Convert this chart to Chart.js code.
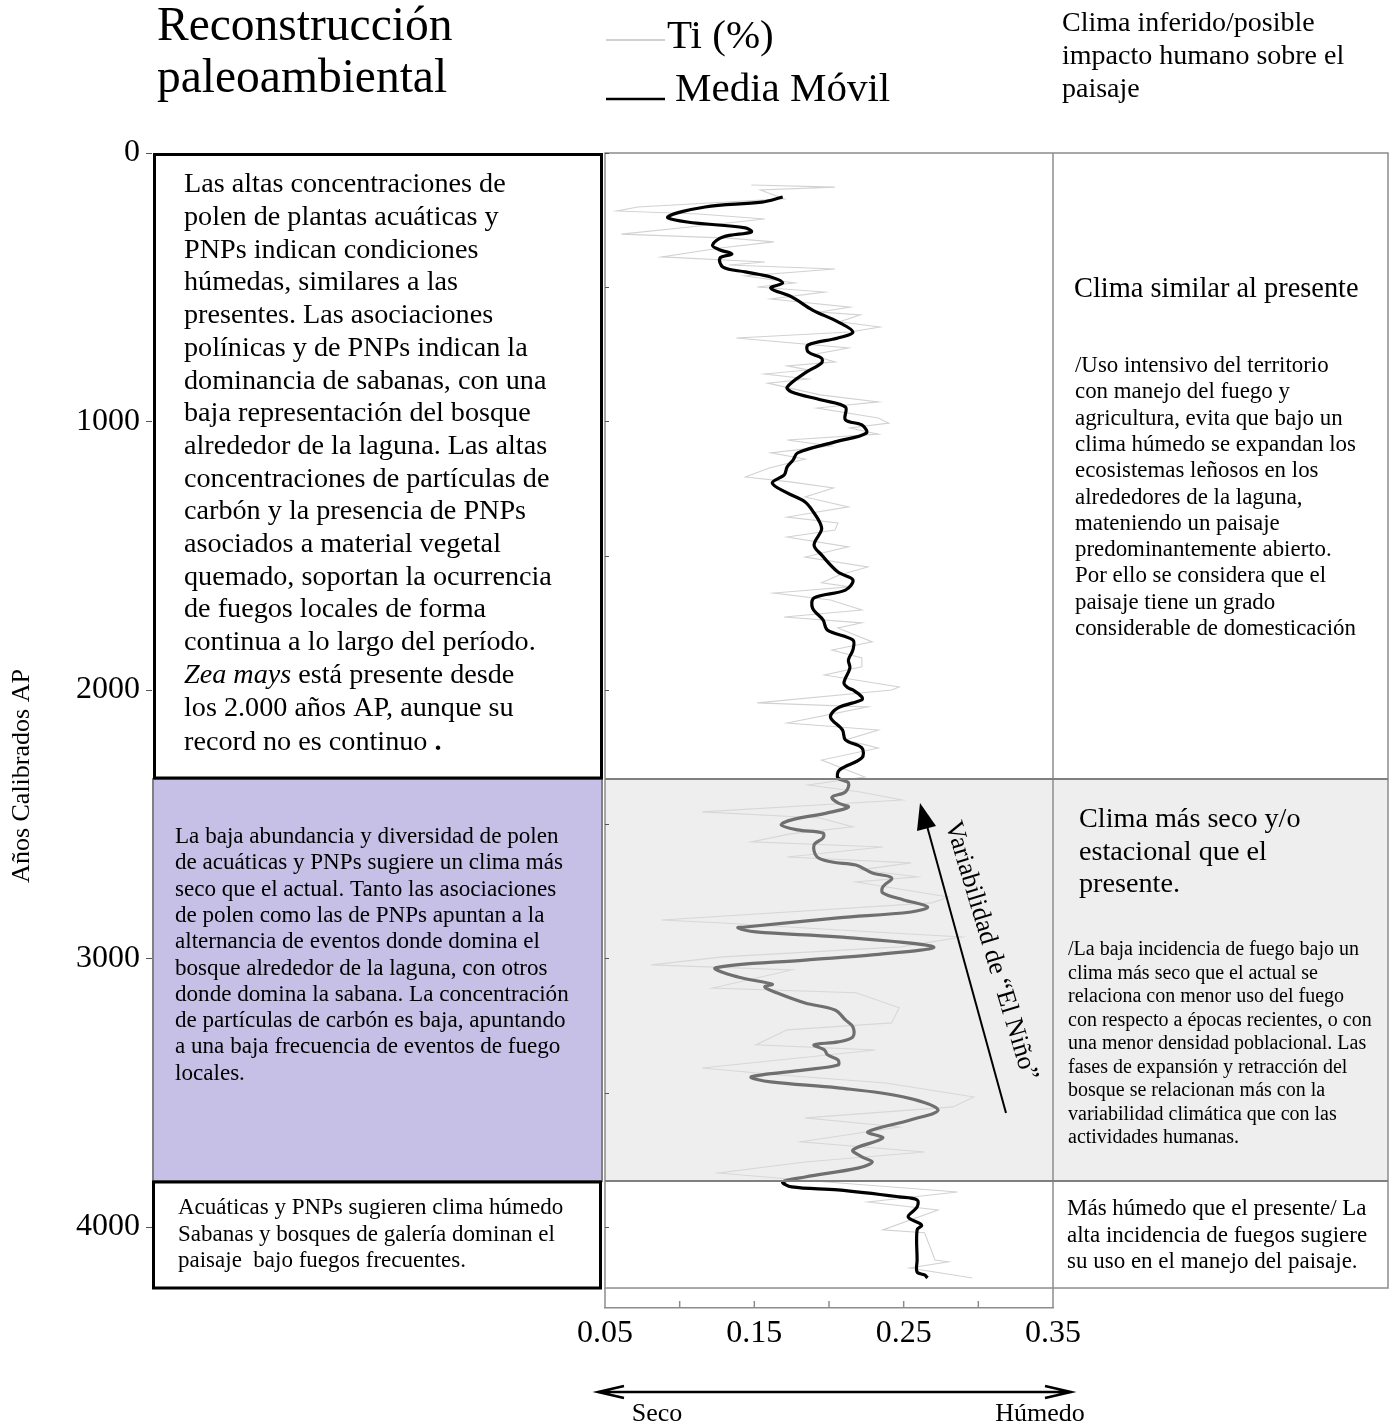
<!DOCTYPE html>
<html lang="es">
<head>
<meta charset="utf-8">
<title>Reconstrucción paleoambiental</title>
<script src="https://cdn.jsdelivr.net/npm/chart.js@4.4.1/dist/chart.umd.min.js"></script>
<style>
  html, body { margin: 0; padding: 0; background: #fff; }
  #wrap { width: 1392px; height: 1426px; }
</style>
</head>
<body>
<div id="wrap"><canvas id="tiCanvas" width="1392" height="1426"></canvas></div>
<script>
// Ti (%) raw record: age (cal yr BP) and value
const tiAges = [119, 127, 138, 171, 201, 216, 227, 246, 272, 302, 317, 331, 354, 387, 406, 417, 432, 458, 484, 499,
  518, 544, 574, 592, 603, 629, 648, 667, 689, 726, 752, 778, 793, 808, 823, 842, 857, 901, 927, 950,
  987, 1006, 1024, 1047, 1069, 1091, 1117, 1140, 1173, 1207, 1225, 1248, 1281, 1318, 1356, 1378, 1404, 1430, 1467, 1505,
  1542, 1572, 1601, 1616, 1639, 1665, 1702, 1728, 1750, 1769, 1821, 1851, 1881, 1914, 1944, 1989, 2000, 2048, 2063, 2123,
  2149, 2186, 2216, 2261, 2324, 2354, 2380, 2410, 2454, 2477, 2510, 2536, 2566, 2585, 2622, 2644, 2670, 2696, 2715, 2771,
  2793, 2857, 2868, 2894, 2920, 2957, 2994, 3024, 3043, 3110, 3128, 3184, 3240, 3266, 3322, 3341, 3408, 3434, 3464, 3516,
  3553, 3594, 3628, 3683, 3721, 3758, 3799, 3825, 3870, 3907, 3937, 4011, 4022, 4123, 4130, 4153, 4190];
const tiValues = [0.148, 0.204, 0.154, 0.170, 0.072, 0.058, 0.113, 0.157, 0.113, 0.061, 0.133, 0.163, 0.127, 0.088, 0.157, 0.133, 0.204, 0.144, 0.177, 0.152,
  0.197, 0.161, 0.214, 0.194, 0.221, 0.207, 0.234, 0.214, 0.138, 0.213, 0.188, 0.204, 0.172, 0.186, 0.157, 0.186, 0.159, 0.194, 0.233, 0.192,
  0.233, 0.240, 0.214, 0.233, 0.172, 0.201, 0.161, 0.184, 0.160, 0.144, 0.174, 0.203, 0.184, 0.213, 0.172, 0.206, 0.204, 0.172, 0.213, 0.184,
  0.226, 0.207, 0.195, 0.214, 0.163, 0.201, 0.222, 0.170, 0.222, 0.206, 0.229, 0.202, 0.222, 0.222, 0.197, 0.247, 0.242, 0.152, 0.226, 0.172,
  0.233, 0.211, 0.233, 0.195, 0.224, 0.186, 0.221, 0.249, 0.115, 0.194, 0.216, 0.174, 0.148, 0.236, 0.172, 0.255, 0.221, 0.259, 0.218, 0.280,
  0.269, 0.088, 0.129, 0.207, 0.289, 0.248, 0.129, 0.081, 0.175, 0.122, 0.218, 0.247, 0.242, 0.172, 0.151, 0.231, 0.115, 0.167, 0.238, 0.297,
  0.283, 0.184, 0.247, 0.181, 0.264, 0.184, 0.126, 0.181, 0.286, 0.226, 0.273, 0.236, 0.264, 0.271, 0.280, 0.254, 0.296];

// moving average (Media Móvil)
const mediaAges = [164, 183, 201, 238, 257, 279, 294, 313, 343, 361, 376, 391, 425, 443, 462, 484, 503, 536, 585, 629,
  667, 689, 715, 741, 764, 782, 819, 872, 890, 920, 946, 994, 1013, 1043, 1076, 1117, 1143, 1169, 1199, 1229,
  1266, 1300, 1341, 1378, 1404, 1460, 1497, 1561, 1590, 1628, 1657, 1695, 1739, 1777, 1814, 1851, 1888, 1918, 1974, 1993,
  2000, 2026, 2037, 2067, 2101, 2149, 2186, 2216, 2253, 2298, 2328, 2346, 2380, 2399, 2421, 2436, 2458, 2484, 2503, 2521,
  2533, 2551, 2577, 2622, 2641, 2652, 2682, 2700, 2734, 2756, 2782, 2808, 2827, 2849, 2883, 2886, 2901, 2920, 2957, 2987,
  3006, 3035, 3069, 3096, 3106, 3128, 3166, 3192, 3229, 3255, 3292, 3311, 3322, 3341, 3359, 3378, 3397, 3415, 3441, 3460,
  3482, 3516, 3564, 3601, 3646, 3669, 3713, 3739, 3758, 3780, 3814, 3832, 3851, 3862, 3888, 3899, 3926, 3963, 3993, 4011,
  4123, 4168, 4179, 4190];
const mediaTi = [0.169, 0.155, 0.117, 0.092, 0.105, 0.144, 0.148, 0.129, 0.122, 0.127, 0.135, 0.127, 0.129, 0.144, 0.161, 0.169, 0.161, 0.175, 0.189, 0.206,
  0.216, 0.206, 0.186, 0.186, 0.195, 0.195, 0.184, 0.172, 0.175, 0.195, 0.211, 0.211, 0.222, 0.225, 0.204, 0.179, 0.176, 0.172, 0.170, 0.162,
  0.172, 0.184, 0.190, 0.194, 0.195, 0.190, 0.195, 0.206, 0.216, 0.211, 0.190, 0.189, 0.196, 0.199, 0.216, 0.216, 0.213, 0.214, 0.210, 0.213,
  0.216, 0.222, 0.222, 0.206, 0.201, 0.209, 0.211, 0.222, 0.222, 0.207, 0.206, 0.213, 0.211, 0.202, 0.206, 0.213, 0.199, 0.175, 0.168, 0.179,
  0.196, 0.196, 0.190, 0.192, 0.202, 0.218, 0.229, 0.242, 0.236, 0.236, 0.250, 0.266, 0.255, 0.206, 0.144, 0.139, 0.151, 0.206, 0.270, 0.229,
  0.184, 0.124, 0.139, 0.162, 0.157, 0.165, 0.184, 0.204, 0.211, 0.216, 0.216, 0.206, 0.190, 0.197, 0.199, 0.206, 0.206, 0.184, 0.148, 0.161,
  0.206, 0.250, 0.273, 0.255, 0.226, 0.236, 0.216, 0.222, 0.229, 0.220, 0.184, 0.169, 0.175, 0.206, 0.247, 0.259, 0.259, 0.253, 0.262, 0.259,
  0.259, 0.259, 0.264, 0.266];

// axes
const xTickValues = [0.05, 0.10, 0.15, 0.20, 0.25, 0.30, 0.35];
const xTickLabels = ["0.05", "", "0.15", "", "0.25", "", "0.35"];
const yTickValues = [0, 500, 1000, 1500, 2000, 2500, 3000, 3500, 4000];
const yTickLabels = ["0", "", "1000", "", "2000", "", "3000", "", "4000"];

// zone limits (cal yr BP)
const zoneBreaks = [2330, 3830];

const serif = "'Liberation Serif', 'Times New Roman', serif";

// text of the panels
const textZoneTop = [
  "Las altas concentraciones de", "polen de plantas acuáticas y", "PNPs indican condiciones",
  "húmedas, similares a las", "presentes. Las asociaciones", "polínicas y de PNPs indican la",
  "dominancia de sabanas, con una", "baja representación del bosque", "alrededor de la laguna. Las altas",
  "concentraciones de partículas de", "carbón y la presencia de PNPs", "asociados a material vegetal",
  "quemado, soportan la ocurrencia", "de fuegos locales de forma", "continua a lo largo del período."
];
const textZoneMid = [
  "La baja abundancia y diversidad de polen", "de acuáticas y PNPs sugiere un clima más",
  "seco que el actual. Tanto las asociaciones", "de polen como las de PNPs apuntan a la",
  "alternancia de eventos donde domina el", "bosque alrededor de la laguna, con otros",
  "donde domina la sabana. La concentración", "de partículas de carbón es baja, apuntando",
  "a una baja frecuencia de eventos de fuego", "locales."
];
const textZoneLow = [
  "Acuáticas y PNPs sugieren clima húmedo", "Sabanas y bosques de galería dominan el",
  "paisaje  bajo fuegos frecuentes."
];
const climaTop = [
  "/Uso intensivo del territorio", "con manejo del fuego y", "agricultura, evita que bajo un",
  "clima húmedo se expandan los", "ecosistemas leñosos en los", "alrededores de la laguna,",
  "mateniendo un paisaje", "predominantemente abierto.", "Por ello se considera que el",
  "paisaje tiene un grado", "considerable de domesticación"
];
const climaMidHead = ["Clima más seco y/o", "estacional que el", "presente."];
const climaMid = [
  "/La baja incidencia de fuego bajo un", "clima más seco que el actual se",
  "relaciona con menor uso del fuego", "con respecto a épocas recientes, o con",
  "una menor densidad poblacional. Las", "fases de expansión y retracción del",
  "bosque se relacionan más con la", "variabilidad climática que con las", "actividades humanas."
];
const climaLow = ["Más húmedo que el presente/ La", "alta incidencia de fuegos sugiere", "su uso en el manejo del paisaje."];

function writeLines(ctx, lines, x, y, step, size) {
  ctx.font = size + "px " + serif;
  lines.forEach((t, i) => ctx.fillText(t, x, y + i * step));
}

function strokeBox(ctx, x0, y0, x1, y1, color, width) {
  ctx.strokeStyle = color;
  ctx.lineWidth = width;
  ctx.strokeRect(x0, y0, x1 - x0, y1 - y0);
}

const panelPlugin = {
  id: "panels",
  afterDatasetsDraw(chart) {
    const ctx = chart.ctx;
    const xs = chart.scales.x;
    const ys = chart.scales.y;
    const top = chart.chartArea.top;
    const left = chart.chartArea.left;
    const right = chart.chartArea.right;
    const frameBottom = 1288;
    const outer = 1388;
    const yA = Math.round(ys.getPixelForValue(zoneBreaks[0]));
    const yB = Math.round(ys.getPixelForValue(zoneBreaks[1]));

    ctx.save();
    // dry phase band (translucent, greys the curves under it)
    ctx.fillStyle = "rgba(221,221,221,0.5)";
    ctx.fillRect(left, yA, outer - left, yB - yA);

    // frames
    ctx.strokeStyle = "#8c8c8c";
    ctx.lineWidth = 1.5;
    ctx.strokeRect(left, top, outer - left, frameBottom - top);
    ctx.beginPath();
    ctx.moveTo(right, top); ctx.lineTo(right, frameBottom);
    ctx.stroke();
    ctx.strokeStyle = "#7f7f7f";
    ctx.lineWidth = 2;
    ctx.beginPath();
    ctx.moveTo(left, yA); ctx.lineTo(outer, yA);
    ctx.moveTo(left, yB); ctx.lineTo(outer, yB);
    ctx.stroke();

    // small y ticks inside frame and beside labels
    ctx.strokeStyle = "#555";
    ctx.lineWidth = 1;
    ys.ticks.forEach(t => {
      const py = Math.round(ys.getPixelForValue(t.value)) + 0.5;
      ctx.beginPath();
      ctx.moveTo(left, py); ctx.lineTo(left + 4, py);
      if (t.value % 1000 === 0) { ctx.moveTo(146, py); ctx.lineTo(152, py); }
      ctx.stroke();
    });
    // x ticks pointing up from the axis line
    const axisY = chart.chartArea.bottom;
    ctx.strokeStyle = "#8c8c8c";
    ctx.lineWidth = 1.5;
    xs.ticks.forEach((t, i) => {
      const px = xs.getPixelForValue(t.value);
      const end = (i === 0 || i === xs.ticks.length - 1);
      ctx.beginPath();
      ctx.moveTo(px, axisY); ctx.lineTo(px, end ? frameBottom : axisY - 7);
      ctx.stroke();
    });

    // left panels
    ctx.fillStyle = "#c6bfe6";
    ctx.fillRect(152, yA, 603 - 152, yB - yA);
    strokeBox(ctx, 153, yA, 602, yB, "#808080", 2);
    strokeBox(ctx, 154.5, top + 1.5, 601.5, yA - 1, "#000", 3);
    strokeBox(ctx, 153.5, yB + 1, 600.5, frameBottom, "#000", 3);

    ctx.fillStyle = "#000";
    ctx.textAlign = "left";
    ctx.textBaseline = "middle";

    const big = 28.2;
    writeLines(ctx, textZoneTop, 184, 185, 32.7, big);
    let yLine = 185 + 15 * 32.7;
    ctx.font = "italic " + big + "px " + serif;
    ctx.fillText("Zea mays", 184, yLine);
    let w = ctx.measureText("Zea mays").width;
    ctx.font = big + "px " + serif;
    ctx.fillText(" está presente desde", 184 + w, yLine);
    ctx.fillText("los 2.000 años AP, aunque su", 184, yLine + 32.7);
    ctx.fillText("record no es continuo ", 184, yLine + 2 * 32.7 + 2);
    w = ctx.measureText("record no es continuo ").width;
    ctx.font = "bold " + big + "px " + serif;
    ctx.fillText(".", 184 + w, yLine + 2 * 32.7 + 2);

    writeLines(ctx, textZoneMid, 175, 837, 26.3, 23.1);
    writeLines(ctx, textZoneLow, 178, 1208, 26.5, 23);

    // right panels
    writeLines(ctx, ["Clima similar al presente"], 1074, 290, 0, 28.4);
    writeLines(ctx, climaTop, 1075, 366, 26.3, 22.9);
    writeLines(ctx, climaMidHead, 1079, 820, 32.5, 28.2);
    writeLines(ctx, climaMid, 1068, 950, 23.5, 20);
    writeLines(ctx, climaLow, 1067, 1209, 26.5, 23);

    // headers
    writeLines(ctx, ["Reconstrucción", "paleoambiental"], 157, 28, 52, 47.5);
    writeLines(ctx, ["Clima inferido/posible", "impacto humano sobre el", "paisaje"], 1062, 24, 33, 28);

    // legend
    const media = chart.data.datasets[0];
    const raw = chart.data.datasets[1];
    ctx.lineWidth = 2;
    ctx.strokeStyle = raw.borderColor;
    ctx.beginPath(); ctx.moveTo(606, 40); ctx.lineTo(665, 40); ctx.stroke();
    ctx.lineWidth = 2.5;
    ctx.strokeStyle = media.borderColor;
    ctx.beginPath(); ctx.moveTo(606, 99); ctx.lineTo(665, 99); ctx.stroke();
    ctx.font = "41px " + serif;
    ctx.fillText(raw.label, 667, 37);
    ctx.fillText(media.label, 675, 90);

    // y axis title
    ctx.save();
    ctx.translate(22, 776);
    ctx.rotate(-Math.PI / 2);
    ctx.textAlign = "center";
    ctx.font = "26px " + serif;
    ctx.fillText("Años Calibrados AP", 0, 0);
    ctx.restore();

    // El Niño arrow
    ctx.strokeStyle = "#000";
    ctx.lineWidth = 2;
    ctx.beginPath(); ctx.moveTo(1006, 1113); ctx.lineTo(927, 826); ctx.stroke();
    ctx.beginPath();
    ctx.moveTo(920, 803); ctx.lineTo(936, 826); ctx.lineTo(917, 831); ctx.closePath();
    ctx.fill();
    ctx.save();
    ctx.translate(991, 951);
    ctx.rotate(73.2 * Math.PI / 180);
    ctx.textAlign = "center";
    ctx.font = "26px " + serif;
    ctx.fillText("Variabilidad de “El Niño”", 0, 0);
    ctx.restore();

    // Seco / Húmedo arrow
    ctx.lineWidth = 2.5;
    ctx.beginPath();
    ctx.moveTo(599, 1392); ctx.lineTo(1070, 1392);
    ctx.moveTo(624, 1386); ctx.lineTo(598, 1392); ctx.lineTo(624, 1398);
    ctx.moveTo(1045, 1386); ctx.lineTo(1071, 1392); ctx.lineTo(1045, 1398);
    ctx.stroke();
    ctx.textAlign = "center";
    ctx.font = "26px " + serif;
    ctx.fillText("Seco", 657, 1414);
    ctx.fillText("Húmedo", 1040, 1414);
    ctx.restore();
  }
};

const toPoints = (ages, vals) => ages.map((a, i) => ({ x: vals[i], y: a }));

// the tick padding would otherwise be added to the ends of each axis
const clearEndPadding = s => {
  s.paddingTop = 0; s.paddingBottom = 0; s.paddingLeft = 0; s.paddingRight = 0;
};

const tiCanvas = document.getElementById("tiCanvas");
const tiChart = new Chart(tiCanvas, {
  type: "line",
  data: {
    datasets: [{
      label: "Media Móvil",
      data: toPoints(mediaAges, mediaTi),
      borderColor: "#000000",
      borderWidth: 3.2,
      pointRadius: 0,
      tension: 0.35
    }, {
      label: "Ti (%)",
      data: toPoints(tiAges, tiValues),
      borderColor: "#d2d2d2",
      borderWidth: 1.1,
      pointRadius: 0,
      tension: 0
    }]
  },
  options: {
    responsive: false,
    animation: false,
    devicePixelRatio: 1,
    layout: { padding: { top: 153, right: 339, left: 0, bottom: 0 } },
    plugins: { legend: { display: false }, tooltip: { enabled: false } },
    scales: {
      x: {
        type: "linear",
        position: "bottom",
        min: 0.05,
        max: 0.35,
        afterFit: s => { s.height = 118; clearEndPadding(s); },
        afterBuildTicks: s => { s.ticks = xTickValues.map(v => ({ value: v })); },
        grid: { display: false, drawTicks: false },
        border: { display: true, color: "#8c8c8c", width: 1.5 },
        ticks: {
          padding: 6,
          autoSkip: false,
          maxRotation: 0,
          color: "#000",
          font: { family: serif, size: 32 },
          callback: (v, i) => xTickLabels[i]
        }
      },
      y: {
        type: "linear",
        reverse: true,
        min: 0,
        max: 4302,
        afterFit: s => { s.width = 605; clearEndPadding(s); },
        afterBuildTicks: s => { s.ticks = yTickValues.map(v => ({ value: v })); },
        grid: { display: false, drawTicks: false },
        border: { display: false },
        ticks: {
          padding: 465,
          autoSkip: false,
          color: "#000",
          font: { family: serif, size: 32 },
          callback: (v, i) => yTickLabels[i]
        }
      }
    }
  },
  plugins: [panelPlugin]
});
</script>
</body>
</html>
